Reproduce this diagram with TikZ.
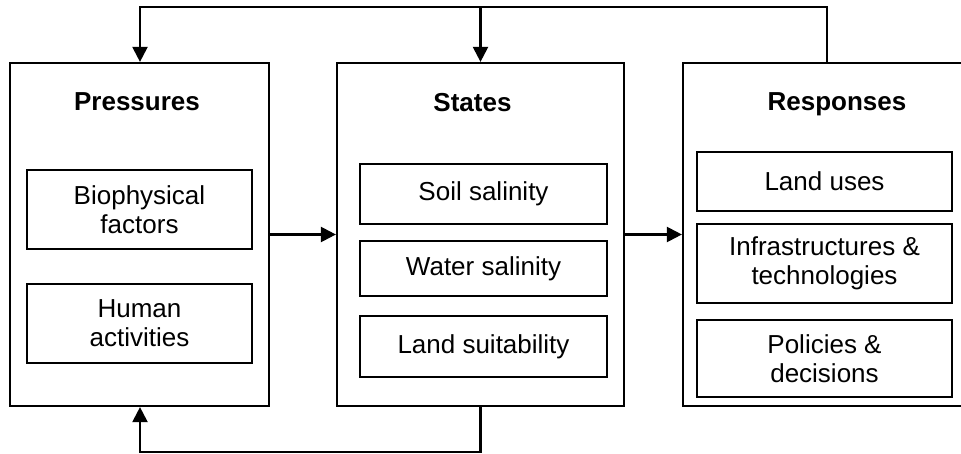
\documentclass[tikz,border=0pt]{standalone}
\usepackage{fontspec}
\setmainfont{Liberation Sans}
\usetikzlibrary{arrows.meta}
\tikzset{
  lw/.style={line width=2.2pt},
  outer/.style={draw, lw, inner sep=0pt, rectangle},
  inner/.style={draw, lw, inner sep=0pt, rectangle, align=center, font=\fontsize{26}{29}\selectfont},
  title/.style={anchor=base, inner sep=0pt, font=\fontsize{26}{29}\selectfont\bfseries},
  arr/.style={lw, -{Triangle[length=15pt,width=15pt]}}
}
\begin{document}
\begin{tikzpicture}[x=1pt,y=-1pt]
\clip (0,0) rectangle (961,454);
\fill[white] (0,0) rectangle (961,454);
% outer boxes
\node[outer, minimum width=259pt, minimum height=343pt] (P) at (139.5,234.5) {};
\node[outer, minimum width=287pt, minimum height=343pt] (S) at (480.5,234.5) {};
\node[outer, minimum width=283pt, minimum height=343pt] (R) at (824.5,234.5) {};
% titles
\node[title] (tP) at (137,111) {Pressures};
\node[title] (tS) at (472.5,112) {States};
\node[title] (tR) at (837,111) {Responses};
% inner boxes: pressures
\node[inner, minimum width=225pt, minimum height=79pt] (p1) at (139.5,209.5) {Biophysical\\factors};
\node[inner, minimum width=225pt, minimum height=79pt] (p2) at (139.5,323.5) {Human\\activities};
% states
\node[inner, minimum width=247pt, minimum height=60pt] (s1) at (483.5,194) {Soil salinity};
\node[inner, minimum width=247pt, minimum height=55pt] (s2) at (483.5,268.5) {Water salinity};
\node[inner, minimum width=247pt, minimum height=61pt] (s3) at (483.5,346.5) {Land suitability};
% responses
\node[inner, minimum width=255pt, minimum height=59pt] (r1) at (824.5,181.5) {Land uses};
\node[inner, minimum width=255pt, minimum height=79pt] (r2) at (824.5,263.5) {Infrastructures \&\\technologies};
\node[inner, minimum width=255pt, minimum height=77pt] (r3) at (824.5,358.5) {Policies \&\\decisions};
% connectors
\draw[arr] (P.east) -- (S.west);
\draw[arr] (S.east) -- (R.west);
\coordinate (tr) at (827,7);
\coordinate (tl) at (140,7);
\coordinate (bl) at (140,452);
\draw[arr] (R.north -| tr) -- (tr) -- (tl) -- (tl |- P.north);
\draw[arr] (S.north |- tr) -- (S.north);
\draw[arr] (S.south) -- (S.south |- bl) -- (bl) -- (bl |- P.south);
\end{tikzpicture}
\end{document}
